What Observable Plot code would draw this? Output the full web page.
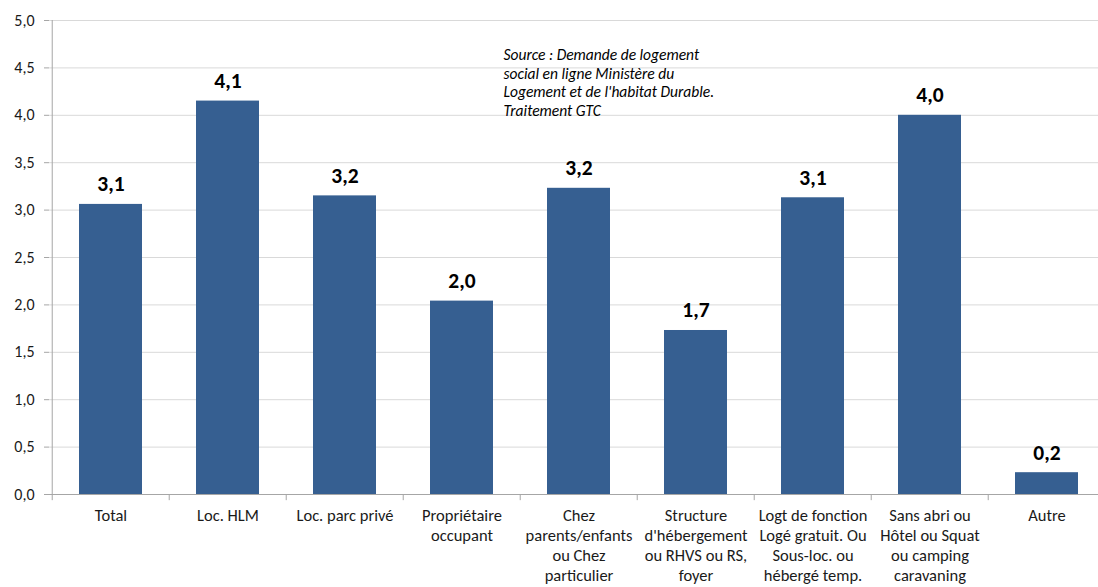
<!DOCTYPE html>
<html><head><meta charset="utf-8">
<script src="https://cdn.jsdelivr.net/npm/d3@7"></script>
<script src="https://cdn.jsdelivr.net/npm/@observablehq/plot@0.6"></script>
<style>
html,body{margin:0;padding:0;background:#fff;overflow:hidden;}
#chart{width:1098px;height:587px;overflow:hidden;}
#chart svg{max-width:none !important;}
</style></head><body><div id="chart"></div>
<script>
const categories = [
  "Total",
  "Loc. HLM",
  "Loc. parc privé",
  "Propriétaire\noccupant",
  "Chez\nparents/enfants\nou Chez\nparticulier",
  "Structure\nd'hébergement\nou RHVS ou RS,\nfoyer",
  "Logt de fonction\nLogé gratuit. Ou\nSous-loc. ou\nhébergé temp.",
  "Sans abri ou\nHôtel ou Squat\nou camping\ncaravaning",
  "Autre"
];
const values = [3.06, 4.15, 3.15, 2.04, 3.23, 1.73, 3.13, 4.00, 0.23];
const valueLabels = ["3,1", "4,1", "3,2", "2,0", "3,2", "1,7", "3,1", "4,0", "0,2"];
const yTicks = [0, 0.5, 1, 1.5, 2, 2.5, 3, 3.5, 4, 4.5, 5];
const sourceText = "Source : Demande de logement\nsocial en ligne Ministère du\nLogement et de l'habitat Durable.\nTraitement GTC";

const data = categories.map((c, i) => ({category: c, value: values[i], label: valueLabels[i]}));
const W = 1107, H = 587, mL = 49, mR = 0, mT = 20, mB = 93;
const step = (W - mL - mR) / categories.length;
const fmt = d => d.toFixed(1).replace(".", ",");
const font = "Carlito, Lato, sans-serif";

const chart = Plot.plot({
  width: W, height: H,
  marginLeft: mL, marginRight: mR, marginTop: mT, marginBottom: mB,
  style: {fontFamily: font, fontSize: "15px", color: "#1a1a1a", background: "#fff", overflow: "visible", maxWidth: "none"},
  x: {domain: categories, paddingInner: 0.464, paddingOuter: 0.232, align: 0.5, label: null},
  y: {domain: [0, 5], label: null},
  marks: [
    Plot.gridY(yTicks, {stroke: "#d9d9d9", strokeOpacity: 1}),
    Plot.barY(data, {x: "category", y: "value", fill: "#365F91"}),
    Plot.ruleY([0], {stroke: "#a6a6a6"}),
    Plot.ruleX([categories[0]], {x: d => d, dx: -step / 2, stroke: "#a6a6a6"}),
    Plot.ruleX(categories, {x: d => d, dx: -step / 2, y1: 0, y2: -0.065, stroke: "#a6a6a6"}),
    Plot.axisY({ticks: yTicks, tickSize: 5, tickPadding: 10, tickFormat: fmt, stroke: "#a6a6a6", fill: "#1a1a1a", fontSize: 16, label: null}),
    Plot.axisX({tickSize: 0, tickPadding: 12, fontSize: 16.5, lineHeight: 1.21, fill: "#1a1a1a", label: null}),
    Plot.text(data, {x: "category", y: "value", text: "label", dy: -20, fontWeight: "bold", fontSize: 21.5, fill: "#000"}),
    Plot.text([sourceText], {frameAnchor: "top-left", dx: 454, dy: 26, lineAnchor: "top", textAnchor: "start", fontStyle: "italic", fontSize: 15.5, lineHeight: 1.21, fill: "#000", ariaLabel: "source"})
  ]
});
document.getElementById("chart").appendChild(chart);

// white box behind the source note
const g = chart.querySelector('g[aria-label="source"]');
if (g) {
  const b = g.getBBox();
  const r = document.createElementNS("http://www.w3.org/2000/svg", "rect");
  r.setAttribute("x", b.x - 12);
  r.setAttribute("y", b.y - 8);
  r.setAttribute("width", b.width + 24);
  r.setAttribute("height", b.height + 16);
  r.setAttribute("fill", "#fff");
  g.parentNode.insertBefore(r, g);
}
</script></body></html>
